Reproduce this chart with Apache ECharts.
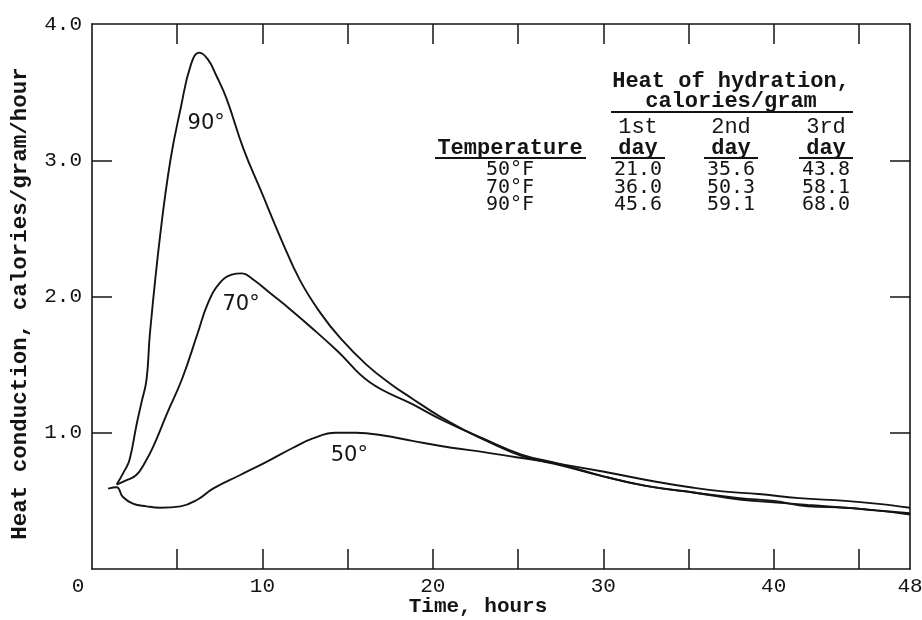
<!DOCTYPE html>
<html><head><meta charset="utf-8">
<script src="https://cdn.jsdelivr.net/npm/echarts@6/dist/echarts.min.js"></script>
<style>html,body{margin:0;padding:0;background:#fff}#c{width:922px;height:620px}</style>
</head><body><div id="c"></div>
<script>
// ---- data ----
const time90 = [1.45,1.9,2.2,2.6,2.9,3.2,3.4,4.0,4.6,5.2,5.8,6.3,6.8,7.3,7.9,8.9,9.9,11.1,12.2,13.4,14.6,16.1,17.5,18.8,20.4,22.0,23.5,25.2,27.5,30.0,32.5,35.4,38.0,40.0,42.0,44.2,46.0,48.0];
const heat90 = [0.62,0.72,0.80,1.05,1.22,1.39,1.73,2.45,3.00,3.38,3.70,3.79,3.74,3.62,3.45,3.08,2.78,2.42,2.12,1.88,1.69,1.50,1.36,1.25,1.12,1.01,0.92,0.83,0.76,0.68,0.61,0.56,0.51,0.49,0.47,0.45,0.43,0.40];
const time70 = [1.45,2.0,2.6,3.1,3.6,4.4,5.3,6.2,6.8,7.5,8.2,8.8,9.4,10.5,11.5,12.8,14.4,16.3,18.8,20.6,22.9,25.2,27.5,30.0,32.5,35.4,38.0,40.0,42.0,44.2,46.0,48.0];
const heat70 = [0.62,0.65,0.69,0.78,0.90,1.14,1.40,1.73,1.95,2.10,2.16,2.17,2.13,2.02,1.92,1.78,1.60,1.37,1.21,1.09,0.96,0.84,0.77,0.68,0.61,0.56,0.52,0.50,0.46,0.45,0.43,0.41];
const time50 = [0.95,1.45,1.8,2.4,3.2,4.0,5.2,6.2,7.1,8.7,10.3,11.8,13.0,14.3,15.5,17.1,18.8,21.1,22.9,24.9,27.5,30.2,33.1,35.1,37.0,39.1,41.5,44.2,46.0,48.0];
const heat50 = [0.59,0.60,0.53,0.48,0.46,0.45,0.46,0.51,0.59,0.69,0.79,0.89,0.96,1.00,1.00,0.98,0.94,0.89,0.86,0.82,0.77,0.71,0.64,0.60,0.57,0.55,0.52,0.50,0.48,0.45];
const curveLabels = ['90°','70°','50°'];

const xTickValues = [5,10,15,20,25,30,35,40,45];
const xLabelValues = [0,10,20,30,40,48];
const yTickValues = [1,2,3];
const yLabelValues = [1,2,3,4];

const tableTitle1 = 'Heat of hydration,';
const tableTitle2 = 'calories/gram';
const tableDays = ['1st','2nd','3rd'];
const tableDayWord = 'day';
const tableTempHead = 'Temperature';
const tableTemps = ['50°F','70°F','90°F'];
const day1 = [21.0,36.0,45.6];
const day2 = [35.6,50.3,59.1];
const day3 = [43.8,58.1,68.0];

// ---- rendering ----
const INK = '#141414';
const MONO = '"Liberation Mono", "DejaVu Sans Mono", monospace';
const LETTER = '"DejaVu Sans", sans-serif';
const NUM = '"DejaVu Sans Mono", monospace';
const zip = (a,b)=>a.map((v,i)=>[v,b[i]]);

function lineSeries(name, t, h, label, at){
  return {
    type:'line', name, data: zip(t,h), showSymbol:false, symbol:'none',
    smooth:0.45, silent:true, animation:false,
    lineStyle:{color:INK, width:1.9},
    markPoint:{
      symbol:'circle', symbolSize:1, itemStyle:{color:'rgba(0,0,0,0)'}, animation:false,
      label:{show:true, position:'inside', formatter:label, fontFamily:LETTER, fontSize:21, color:INK},
      data:[{coord:at}]
    }
  };
}

const chart = echarts.init(document.getElementById('c'));
const axisLineStyle = {onZero:false, lineStyle:{color:INK, width:1.6}};
const tickStyle = (vals)=>({show:true, inside:true, length:20, customValues:vals, lineStyle:{color:INK, width:1.5}});

// table graphics
const colX = [638, 731, 826];
const g = [];
function txt(x,y,text,font,size,weight){
  g.push({type:'text', x, y, silent:true, style:{text, textAlign:'center', textVerticalAlign:'middle', verticalAlign:'middle', fontFamily:font, fontSize:size, fontWeight:weight||'normal', fill:INK}});
}
function uline(x1,x2,y){
  g.push({type:'line', silent:true, shape:{x1,y1:y,x2,y2:y}, style:{stroke:INK, lineWidth:2.2}});
}
txt(731, 81, tableTitle1, MONO, 22, 'bold');
txt(731, 101, tableTitle2, MONO, 22, 'bold');
uline(611, 853, 112);
tableDays.forEach((d,i)=>{ txt(colX[i], 127, d, MONO, 22, 'normal'); txt(colX[i], 148, tableDayWord, MONO, 22, 'bold'); uline(colX[i]-27, colX[i]+27, 158); });
txt(510, 148, tableTempHead, MONO, 22, 'bold');
uline(435, 586, 158);
const cols = [day1, day2, day3];
tableTemps.forEach((t,r)=>{
  const y = 170 + r*17.5;
  txt(510, y, t, NUM, 20, 'normal');
  cols.forEach((c,i)=> txt(colX[i], y, c[r].toFixed(1), NUM, 20, 'normal'));
});

chart.setOption({
  backgroundColor:'#ffffff',
  animation:false,
  grid:{left:92, right:12, top:24, bottom:51, containLabel:false, outerBoundsMode:'none'},
  xAxis:[
    {type:'value', min:0, max:48, position:'bottom',
     axisLine:{show:true, ...axisLineStyle}, axisTick:tickStyle(xTickValues), splitLine:{show:false},
     axisLabel:{show:true, customValues:xLabelValues, margin:7, fontFamily:MONO, fontSize:21, color:INK,
       formatter:(v)=> v===0 ? '{z|0}' : String(v),
       rich:{z:{fontFamily:MONO, fontSize:21, color:INK, padding:[0,28,0,0]}}},
     name:'Time, hours', nameLocation:'middle', nameGap:27, nameMoveOverlap:false,
     nameTextStyle:{fontFamily:MONO, fontSize:21, fontWeight:'bold', color:INK, padding:[0,46,0,0]}},
    {type:'value', min:0, max:48, position:'top',
     axisLine:{show:true, ...axisLineStyle}, axisTick:tickStyle(xTickValues), axisLabel:{show:false}, splitLine:{show:false}}
  ],
  yAxis:[
    {type:'value', min:0, max:4, interval:1, position:'left',
     axisLine:{show:true, ...axisLineStyle}, axisTick:tickStyle(yTickValues), splitLine:{show:false},
     axisLabel:{show:true, customValues:yLabelValues, margin:10, fontFamily:MONO, fontSize:21, color:INK, formatter:(v)=>v.toFixed(1)},
     name:'Heat conduction, calories/gram/hour', nameLocation:'middle', nameRotate:90, nameGap:60, nameMoveOverlap:false,
     nameTextStyle:{fontFamily:MONO, fontSize:22.5, fontWeight:'bold', color:INK, padding:[0,14,0,0]}},
    {type:'value', min:0, max:4, interval:1, position:'right',
     axisLine:{show:true, ...axisLineStyle}, axisTick:tickStyle(yTickValues), axisLabel:{show:false}, splitLine:{show:false}}
  ],
  series:[
    lineSeries('90', time90, heat90, curveLabels[0], [6.7, 3.27]),
    lineSeries('70', time70, heat70, curveLabels[1], [8.75, 1.94]),
    lineSeries('50', time50, heat50, curveLabels[2], [15.1, 0.83])
  ],
  graphic: g
});
</script>
</body></html>
